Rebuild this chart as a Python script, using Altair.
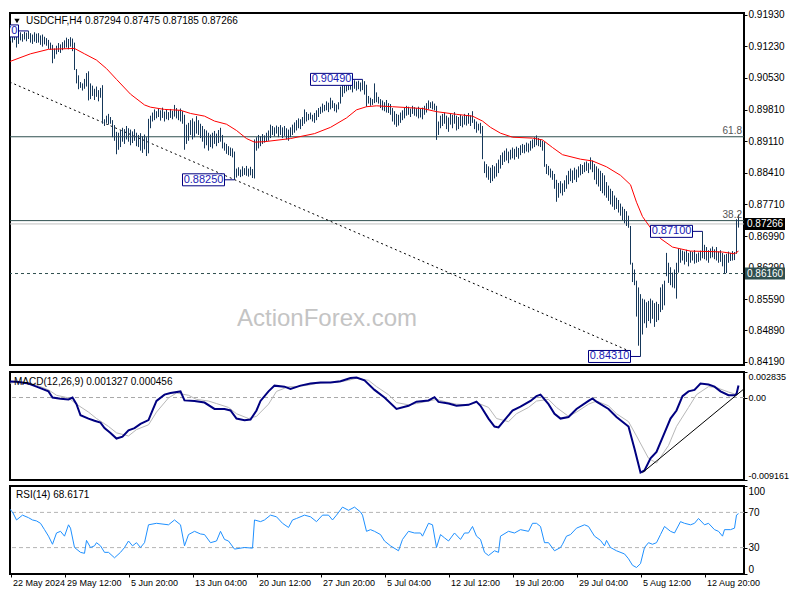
import json
import altair as alt
import pandas as pd

FONT = "Liberation Sans"
W = 734
H_MAIN, H_MACD, H_RSI = 352, 108, 88
BAR = "#16385a"
NAVY = "#000080"

# ---------------- data ----------------
symbol = "USDCHF,H4"
ohlc_last = [0.87294, 0.87475, 0.87185, 0.87266]

highs = [
    .9135, .9143, .9148, .9150, .9146, .9152, .9149, .9153, .9150, .9151, .9154, .9150, .9155, .9153, .9157, .9152, .9149, .9154, .9151, .9152, .9147, .9149,
    .9144, .9141, .9137, .9131, .9126, .9118, .9124, .9130, .9127, .9132, .9136, .9142, .9139, .9143, .9140,
    .9131, .9072, .9058, .9043, .9040, .9050, .9063, .9067, .9040, .9035, .9028, .9033, .9025, .9030, .9036, .8960,
    .8968, .8972, .8965, .8958, .8947, .8932, .8930, .8936, .8941, .8938, .8945, .8940, .8937, .8933, .8938, .8930, .8925, .8929, .8922, .8926, .8920,
    .8961, .8968, .8975, .8982, .8978, .8984, .8980, .8986, .8977, .8981, .8976, .8983, .8979, .8992, .8985, .8980, .8984, .8978, .8970,
    .8948, .8952, .8958, .8962, .8955, .8967, .8958, .8950, .8945, .8938, .8935, .8930, .8926, .8930, .8934, .8928, .8936, .8941, .8925, .8908, .8905, .8900, .8897, .8895, .8888,
    .8850, .8853, .8848, .8855, .8851, .8856, .8850, .8854, .8849, .8915,
    .8920, .8925, .8922, .8927, .8924, .8930, .8935, .8948, .8945, .8942, .8946, .8943, .8947, .8942, .8945, .8940, .8937, .8942,
    .8948, .8953, .8958, .8962, .8960, .8965, .8982, .8976, .8972, .8975, .8970, .8974, .8980, .8985, .8988, .8995, .8992, .9000, .8997, .9008, .9002, .8996, .8993, .8998, .9033,
    .9040, .9043, .9045, .9041, .9046, .9043, .9047, .9044, .9046, .9042, .9049, .9045, .9037, .9012, .9008, .9005,
    .9040, .9020, .9010, .9005, .9002, .8998, .9003, .8996, .8994, .8985, .8978, .8972, .8970, .8975, .8980, .8986, .8990, .8988, .8984, .8990, .8987, .8985, .8988, .8983, .8986, .8990, .8996, .9002, .8998, .9000, .8995, .8990,
    .8955, .8968, .8972, .8975, .8968, .8964, .8972, .8970, .8976, .8968, .8965, .8970, .8967, .8972, .8968, .8974, .8969, .8978, .8960, .8955, .8950, .8952, .8945,
    .8866, .8860, .8855, .8852, .8858, .8855, .8862, .8870, .8880, .8886, .8890, .8895, .8888, .8892, .8897, .8894, .8899, .8896, .8902, .8905, .8903, .8908, .8906, .8912, .8915, .8920, .8924, .8918, .8915, .8912, .8909,
    .8860, .8856, .8850, .8845, .8838, .8825, .8818, .8822, .8817, .8824, .8835, .8845, .8850, .8846, .8852, .8848, .8855, .8860, .8858, .8864, .8866, .8862, .8875, .8868, .8860, .8855, .8850, .8845, .8840, .8835, .8820, .8812, .8805, .8800, .8790, .8785, .8780, .8772, .8765, .8760, .8755, .8745,
    .8722, .8640, .8625, .8600, .8585, .8570, .8560, .8558, .8552, .8555, .8560, .8556, .8550, .8553, .8548, .8585, .8592, .8600, .8662, .8640, .8630, .8618, .8625, .8640, .8672, .8670, .8667, .8665, .8669, .8662, .8666, .8664, .8668, .8660, .8663, .8667, .8710, .8680, .8675, .8668, .8672, .8676, .8670, .8675, .8665, .8668, .8662, .8658, .8660, .8665, .8662, .8666, .8664, .8737, .87475,
]
lows = [
    .9108, .9118, .9128, .9132, .9130, .9134, .9131, .9137, .9120, .9128, .9136, .9133, .9138, .9134, .9139, .9131, .9128, .9133, .9130, .9131, .9126, .9122,
    .9127, .9124, .9117, .9115, .9085, .9095, .9105, .9110, .9108, .9114, .9118, .9120, .9116, .9122, .9112,
    .9070, .9040, .9027, .9030, .9024, .9028, .9033, .9002, .9005, .9012, .9003, .9010, .9000, .9008, .8950, .8945,
    .8952, .8948, .8950, .8920, .8912, .8882, .8892, .8898, .8910, .8905, .8915, .8910, .8902, .8907, .8912, .8900, .8898, .8890, .8885, .8893, .8878,
    .8884, .8940, .8955, .8958, .8962, .8965, .8957, .8963, .8955, .8960, .8958, .8963, .8960, .8966, .8962, .8958, .8955, .8950, .8892,
    .8905, .8912, .8925, .8915, .8920, .8928, .8925, .8918, .8910, .8895, .8902, .8890, .8898, .8895, .8905, .8900, .8907, .8910, .8895, .8890, .8883, .8880, .8878, .8875, .8825,
    .8830, .8834, .8831, .8833, .8836, .8834, .8832, .8835, .8829, .8828,
    .8890, .8895, .8900, .8905, .8908, .8910, .8912, .8918, .8925, .8922, .8928, .8920, .8925, .8918, .8923, .8915, .8912, .8920,
    .8925, .8930, .8935, .8940, .8938, .8945, .8950, .8955, .8958, .8960, .8955, .8952, .8958, .8965, .8972, .8975, .8978, .8980, .8976, .8982, .8985, .8978, .8975, .8982, .8995,
    .9010, .9018, .9022, .9025, .9026, .9020, .9028, .9024, .9027, .9022, .9025, .9015, .8988, .8995, .8990, .8992,
    .8996, .8998, .8995, .8985, .8980, .8978, .8975, .8974, .8970, .8955, .8948, .8943, .8946, .8952, .8958, .8962, .8968, .8970, .8965, .8972, .8968, .8966, .8962, .8964, .8960, .8970, .8975, .8982, .8985, .8982, .8980, .8914,
    .8925, .8940, .8945, .8950, .8938, .8932, .8948, .8940, .8950, .8935, .8938, .8945, .8942, .8948, .8946, .8950, .8945, .8952, .8938, .8930, .8935, .8928, .8871,
    .8840, .8830, .8825, .8818, .8822, .8828, .8832, .8840, .8850, .8858, .8865, .8868, .8862, .8870, .8873, .8870, .8876, .8872, .8880, .8885, .8884, .8888, .8886, .8890, .8895, .8898, .8902, .8900, .8898, .8890, .8854,
    .8838, .8835, .8830, .8825, .8805, .8776, .8785, .8795, .8790, .8798, .8805, .8815, .8822, .8818, .8825, .8820, .8830, .8835, .8838, .8842, .8845, .8840, .8848, .8842, .8825, .8815, .8810, .8800, .8795, .8790, .8785, .8778, .8770, .8765, .8758, .8760, .8752, .8745, .8735, .8728, .8722, .8718,
    .8636, .8597, .8590, .8520, .8455, .8431, .8480, .8505, .8495, .8510, .8505, .8515, .8497, .8508, .8512, .8530, .8535, .8545, .8610, .8595, .8590, .8585, .8583, .8560, .8618, .8640, .8645, .8636, .8642, .8632, .8640, .8645, .8638, .8640, .8642, .8645, .8650, .8648, .8645, .8640, .8650, .8652, .8648, .8645, .8640, .8642, .8632, .8616, .8617, .8640, .8644, .8645, .8646, .8660, .87185,
]

# moving average (bar index, value)
ma_points = [
    (0, .9081), (15, .9106), (24, .9116), (37, .9118), (42, .9106), (48, .9092), (53, .9073), (58, .9049),
    (65, .9016), (72, .8992), (75, .8987), (82, .8982), (90, .8980), (95, .8973), (102, .8967), (107, .8956),
    (113, .8949), (118, .8935), (123, .8917), (127, .8909), (132, .8910), (145, .8917), (157, .8928), (165, .8942),
    (173, .8963), (178, .8981), (183, .8988), (188, .8990), (196, .8988), (211, .8984), (218, .8977), (228, .8971),
    (236, .8967), (241, .8956), (245, .8942), (250, .8929), (256, .8920), (266, .8918), (271, .8914), (276, .8897),
    (281, .8881), (290, .8871), (296, .8867), (303, .8854), (310, .8835), (315, .8814), (318, .8775), (321, .8743),
    (325, .8718), (330, .8694), (336, .8675), (345, .8666), (355, .8665), (361, .8664), (367, .8660), (369, .8666),
]

fib_levels = [0.8921, 0.8734]
fib_names = ["61.8", "38.2"]
support_level = 0.8616
trend_points = [(0, 0.9052), (316, 0.8440)]

label_idx = [14, 181, 117, 351, 320]
label_val = [0.9157, 0.9049, 0.8825, 0.8710, 0.8431]

price_ticks = [0.9193, 0.9123, 0.9053, 0.8981, 0.8911, 0.8841, 0.8771, 0.8699, 0.8629, 0.8559, 0.8489, 0.8419]
price_domain = [0.8412, 0.9197]

# MACD (bar index, value)
macd_points = [
    (0, .00141), (4, .00180), (8, .00174), (14, .00156), (18, .00121), (24, .00068), (26, 0.0), (30, -.00014),
    (34, -.00021), (36, 0.0), (38, -.00074), (40, -.00197), (44, -.00234), (47, -.00258), (50, -.00279), (52, -.00340),
    (55, -.00393), (58, -.00456), (61, -.00435), (64, -.00364), (67, -.00340), (70, -.00293), (74, -.00251), (76, -.00144),
    (78, -.00038), (82, .00032), (85, .00050), (90, .00068), (92, -.00032), (97, -.00038), (102, -.00056), (107, -.00127),
    (112, -.00127), (115, -.00144), (118, -.00234), (122, -.00251), (125, -.00244), (128, -.00144), (130, -.00038), (134, .00068),
    (137, .00132), (142, .00121), (145, .00096), (150, .00132), (155, .00156), (160, .00167), (165, .00167), (170, .00180),
    (175, .00217), (178, .00223), (182, .00191), (187, .00085), (192, 0.0), (198, -.00127), (204, -.00092), (208, -.00046),
    (214, -.00032), (217, .00004), (219, -.00049), (224, -.00067), (228, -.00092), (234, -.00081), (238, -.00046), (240, -.00092),
    (244, -.00234), (247, -.00322), (249, -.00332), (252, -.00251), (256, -.00144), (260, -.00102), (265, -.00038), (268, .00015),
    (270, .00032), (274, -.00074), (277, -.00180), (280, -.00234), (284, -.00216), (288, -.00127), (294, -.00038), (296, -.00011),
    (298, -.00046), (304, -.00127), (308, -.00216), (314, -.00322), (317, -.00569), (320, -.00834), (322, -.00810), (325, -.00675),
    (328, -.00605), (332, -.00393), (335, -.00234), (338, -.00144), (341, .00015), (344, .00068), (347, .00085), (350, .00156),
    (354, .00145), (357, .00121), (360, .00068), (364, .00025), (367, .00025), (368, .00039), (369, .00133),
]
signal_points = [
    (0, .00120), (4, .00156), (8, .00174), (14, .00167), (18, .00138), (24, .00085), (28, .00025), (34, -.00004),
    (38, -.00074), (44, -.00162), (48, -.00233), (54, -.00321), (58, -.00392), (64, -.00427), (68, -.00356), (74, -.00303),
    (78, -.00162), (84, -.00004), (88, .00050), (94, .00025), (98, -.00021), (104, -.00039), (108, -.00067), (114, -.00110),
    (118, -.00180), (124, -.00233), (128, -.00209), (134, -.00074), (138, .00068), (144, .00121), (148, .00121), (154, .00138),
    (158, .00156), (164, .00167), (168, .00167), (174, .00191), (178, .00215), (184, .00191), (188, .00121), (194, .00032),
    (198, -.00056), (204, -.00081), (208, -.00067), (214, -.00039), (218, -.00021), (224, -.00056), (228, -.00074), (234, -.00081),
    (238, -.00056), (244, -.00110), (248, -.00233), (254, -.00268), (258, -.00180), (264, -.00110), (268, -.00039), (274, -.00021),
    (278, -.00110), (284, -.00209), (288, -.00162), (294, -.00074), (298, -.00039), (304, -.00092), (308, -.00180), (314, -.00268),
    (318, -.00427), (324, -.00675), (328, -.00728), (334, -.00533), (338, -.00321), (344, -.00110), (348, .00032), (354, .00121),
    (358, .00110), (364, .00061), (367, .00040), (369, .00046),
]
macd_trend_points = [(321, -0.00834), (375, 0.00156)]
macd_ticks = [-0.009161, 0.0, 0.002835]
macd_title = "MACD(12,26,9) 0.001327 0.000456"

# RSI (bar index, value)
rsi_points = [
    (0, 66.9), (2, 72.4), (4, 75), (6, 70.5), (8, 61.4), (11, 66.9), (14, 64), (16, 61.4), (18, 60.3), (20, 57.6),
    (22, 50.4), (24, 43), (26, 33.8), (28, 46.6), (30, 48.5), (32, 43), (34, 55.9), (35, 52.1), (37, 30.1), (40, 24.6),
    (42, 23.5), (43, 38.2), (45, 30.1), (47, 32), (48, 35.6), (50, 32), (52, 24.6), (54, 24.6), (57, 18.4), (60, 24.6),
    (62, 30.1), (64, 37.5), (66, 32), (68, 35.6), (70, 30.1), (72, 35.6), (74, 55.9), (78, 57.6), (84, 55.9), (87, 61.4),
    (90, 55.9), (92, 32), (94, 44.8), (97, 48.5), (100, 45.5), (102, 44.8), (105, 35.6), (108, 37.5), (110, 48.5), (112, 39.3),
    (114, 37.5), (117, 28.3), (122, 30.1), (126, 29.4), (127, 61.4), (130, 59.5), (132, 61.4), (135, 66.9), (138, 65), (141, 57.6),
    (144, 52.9), (146, 61.4), (148, 63.1), (152, 66.9), (155, 65), (158, 59.5), (161, 66.9), (164, 66.9), (166, 61.4), (168, 66.9),
    (171, 76), (174, 72.4), (177, 76), (180, 70.5), (181, 66.9), (183, 48.5), (185, 50.4), (187, 48.5), (190, 44.8), (192, 37.5),
    (195, 32), (199, 26.4), (201, 39.3), (204, 48.5), (207, 46.6), (210, 46.6), (211, 43), (214, 57.6), (216, 55.9), (218, 30.1),
    (220, 44.8), (222, 41.1), (224, 37.5), (227, 46.6), (230, 39.3), (232, 46.6), (234, 46.6), (236, 54), (238, 43), (240, 39.3),
    (242, 24.6), (244, 21), (247, 26.4), (249, 24.6), (250, 43), (254, 48.5), (257, 46.6), (260, 50.4), (264, 48.5), (266, 57.6),
    (268, 57.6), (270, 54), (272, 35.6), (274, 35.6), (277, 26.4), (280, 30.1), (281, 33.8), (283, 43), (285, 44.8), (288, 52.1),
    (292, 55.9), (294, 54), (297, 43), (300, 38.2), (302, 32), (303, 38.2), (305, 30.1), (308, 26.4), (312, 22.8), (314, 17.3),
    (316, 9.9), (318, 7.4), (320, 11.8), (322, 30.1), (324, 35.6), (326, 33.8), (328, 35.6), (330, 44.8), (332, 54), (335, 48.5),
    (337, 46.6), (340, 59.5), (342, 57.6), (345, 55.9), (347, 57.6), (349, 63.1), (352, 55.9), (354, 57.6), (357, 50.4), (359, 48.5),
    (361, 43), (362, 50.4), (365, 50.4), (367, 52.1), (368, 67.0), (369, 68.6),
]
rsi_levels = [30, 70]
rsi_ticks = [0, 30, 70, 100]
rsi_title = "RSI(14) 68.6171"

time_idx = [5, 32, 64, 96, 128, 160, 192, 224, 256, 288, 320, 352]
time_labels = ["22 May 2024", "29 May 12:00", "5 Jun 20:00", "13 Jun 04:00", "20 Jun 12:00", "27 Jun 20:00",
               "5 Jul 04:00", "12 Jul 12:00", "19 Jul 20:00", "29 Jul 04:00", "5 Aug 12:00", "12 Aug 20:00"]

# ---------------- frames ----------------
n = min(len(highs), len(lows))
bars_df = pd.DataFrame({"i": list(range(n)), "high": highs[:n], "low": lows[:n]})
ma_df = pd.DataFrame(ma_points, columns=["i", "v"])
fib_df = pd.DataFrame({"p": fib_levels, "name": fib_names})
trend_df = pd.DataFrame(trend_points, columns=["i", "v"])
lab_df = pd.DataFrame({"i": label_idx, "p": label_val, "t": [f"{v:.5f}" for v in label_val]})
tag_df = pd.DataFrame({"p": [ohlc_last[3], support_level],
                       "t": [f"{ohlc_last[3]:.5f}", f"{support_level:.5f}"],
                       "c": ["#000000", "#2f4f4f"]})
title_df = pd.DataFrame({"t": [symbol + " " + " ".join(f"{v:.5f}" for v in ohlc_last)]})
wm_df = pd.DataFrame({"t": ["ActionForex.com"]})

# 2 px per bar, bar centres on half pixels
X_DOM = [4.75, 4.75 + W / 2]


def xq(axis=None):
    return alt.X("i:Q", scale=alt.Scale(domain=X_DOM, nice=False, zero=False), axis=axis)


price_scale = alt.Scale(domain=price_domain, nice=False, zero=False)
price_axis = alt.Axis(orient="right", values=price_ticks, format=".5f", title=None, grid=False,
                      tickSize=3, labelPadding=1, labelOverlap=False, labelFlush=True)


def yp(f):
    return alt.Y(f"{f}:Q", scale=price_scale, axis=price_axis)


watermark = alt.Chart(wm_df).mark_text(font=FONT, fontSize=24, color="#c4c4c4").encode(
    x=alt.value(317), y=alt.value(306), text="t:N")
fib_rules = alt.Chart(fib_df).mark_rule(color="#2f4f4f", strokeWidth=1).encode(y=yp("p"))
close_rule = alt.Chart(tag_df.iloc[[0]]).mark_rule(color="#c0c0c0", strokeWidth=1).encode(y=yp("p"))
support_rule = alt.Chart(tag_df.iloc[[1]]).mark_rule(color="#2f4f4f", strokeWidth=1, strokeDash=[3, 3]).encode(y=yp("p"))
trend = alt.Chart(trend_df).mark_line(color="black", strokeWidth=1, strokeDash=[2, 3], clip=True).encode(x=xq(), y=yp("v"))
bars = alt.Chart(bars_df).mark_rule(color=BAR, strokeWidth=1, clip=True).encode(x=xq(), y=yp("high"), y2="low:Q")
ma = alt.Chart(ma_df).mark_line(color="#ff0000", strokeWidth=1, clip=True).encode(x=xq(), y=yp("v"))
fib_text = alt.Chart(fib_df).mark_text(align="right", baseline="bottom", dy=-1, font=FONT, fontSize=10,
                                       color="#555555").encode(x=alt.value(W - 2), y=yp("p"), text="name:N")
connectors = alt.Chart(lab_df).mark_rule(color=NAVY, strokeWidth=1, xOffset=-10, clip=True).encode(
    x=xq(), x2="i:Q", y=yp("p"))
boxes = alt.Chart(lab_df).mark_rect(fill="white", stroke=NAVY, strokeWidth=1, xOffset=-52, x2Offset=-10,
                                    yOffset=-6, y2Offset=6, clip=True).encode(x=xq(), x2="i:Q", y=yp("p"), y2="p:Q")
box_text = alt.Chart(lab_df).mark_text(dx=-31, font=FONT, fontSize=11, color="#1a1ab4", clip=True).encode(
    x=xq(), y=yp("p"), text="t:N")
tag_rect = alt.Chart(tag_df).mark_rect(yOffset=-6, y2Offset=6).encode(
    x=alt.value(W + 1), x2=alt.value(W + 41), y=yp("p"), y2="p:Q", color=alt.Color("c:N", scale=None))
tag_text = alt.Chart(tag_df).mark_text(align="left", font=FONT, fontSize=10, color="white").encode(
    x=alt.value(W + 3), y=yp("p"), text="t:N")
tri = alt.Chart(title_df).mark_point(shape="triangle-down", filled=True, color="black", size=28, opacity=1).encode(
    x=alt.value(7), y=alt.value(8))
title = alt.Chart(title_df).mark_text(align="left", font=FONT, fontSize=10, color="black").encode(
    x=alt.value(16), y=alt.value(8), text="t:N")

main = alt.layer(watermark, fib_rules, close_rule, support_rule, trend, bars, ma, fib_text,
                 connectors, boxes, box_text, tag_rect, tag_text, tri, title).properties(width=W, height=H_MAIN)

# MACD panel
macd_scale = alt.Scale(domain=[macd_ticks[0], macd_ticks[-1]], nice=False, zero=False)
macd_axis = alt.Axis(orient="right", values=macd_ticks, title=None, grid=False, tickSize=3, labelPadding=1,
                     labelFlush=True, labelOverlap=False, labelFontSize=9,
                     labelExpr="datum.value == 0 ? '0.00' : (datum.value < 0 ? '-' + format(-datum.value, '.6f') : format(datum.value, '.6f'))")


def ym(f):
    return alt.Y(f"{f}:Q", scale=macd_scale, axis=macd_axis)


macd_df = pd.DataFrame(macd_points, columns=["i", "v"])
sig_df = pd.DataFrame(signal_points, columns=["i", "v"])
mtr_df = pd.DataFrame(macd_trend_points, columns=["i", "v"])
zero_line = alt.Chart(pd.DataFrame({"v": [0.0]})).mark_rule(color="#a8a8a8", strokeDash=[4, 3]).encode(y=ym("v"))
sig_line = alt.Chart(sig_df).mark_line(color="#b8b8b8", strokeWidth=1, clip=True).encode(x=xq(), y=ym("v"))
macd_line = alt.Chart(macd_df).mark_line(color=NAVY, strokeWidth=2, clip=True).encode(x=xq(), y=ym("v"))
mtr_line = alt.Chart(mtr_df).mark_line(color="black", strokeWidth=1, clip=True).encode(x=xq(), y=ym("v"))
mtitle = alt.Chart(pd.DataFrame({"t": [macd_title]})).mark_text(align="left", font=FONT, fontSize=10, color="black").encode(
    x=alt.value(4), y=alt.value(10), text="t:N")
macd = alt.layer(zero_line, sig_line, macd_line, mtr_line, mtitle).properties(width=W, height=H_MACD)

# RSI panel
rsi_scale = alt.Scale(domain=[0, 100], nice=False, zero=False)
rsi_axis = alt.Axis(orient="right", values=rsi_ticks, format="d", title=None, grid=False, tickSize=3,
                    labelPadding=1, labelFlush=True, labelOverlap=False)
time_axis = alt.Axis(orient="bottom", values=time_idx, title=None, grid=False, tickSize=3, labelPadding=1,
                     labelAlign="left", labelOffset=2, labelOverlap=False, labelFlush=False, labelBound=False,
                     labelFontSize=9,
                     labelExpr=f"{json.dumps(time_labels)}[indexof({json.dumps(time_idx)}, datum.value)]")


def yr(f):
    return alt.Y(f"{f}:Q", scale=rsi_scale, axis=rsi_axis)


rsi_df = pd.DataFrame(rsi_points, columns=["i", "v"])
rsi_lv = alt.Chart(pd.DataFrame({"v": rsi_levels})).mark_rule(color="#b4b4b4", strokeDash=[4, 3]).encode(y=yr("v"))
rsi_line = alt.Chart(rsi_df).mark_line(color="#1e90ff", strokeWidth=1, clip=True).encode(x=xq(time_axis), y=yr("v"))
rtitle = alt.Chart(pd.DataFrame({"t": [rsi_title]})).mark_text(align="left", font=FONT, fontSize=10, color="black").encode(
    x=alt.value(6), y=alt.value(9), text="t:N")
rsi = alt.layer(rsi_lv, rsi_line, rtitle).properties(width=W, height=H_RSI)

chart = alt.vconcat(main, macd, rsi, spacing=2).properties(
    padding={"left": 0, "top": 0, "right": 0, "bottom": 0}, background="white"
).configure_view(stroke="black", strokeWidth=2).configure_axis(
    labelFont=FONT, labelFontSize=10, labelColor="black", tickColor="black", domainColor="black")

chart.save("out.html", embed_options={"renderer": "svg", "actions": False})
